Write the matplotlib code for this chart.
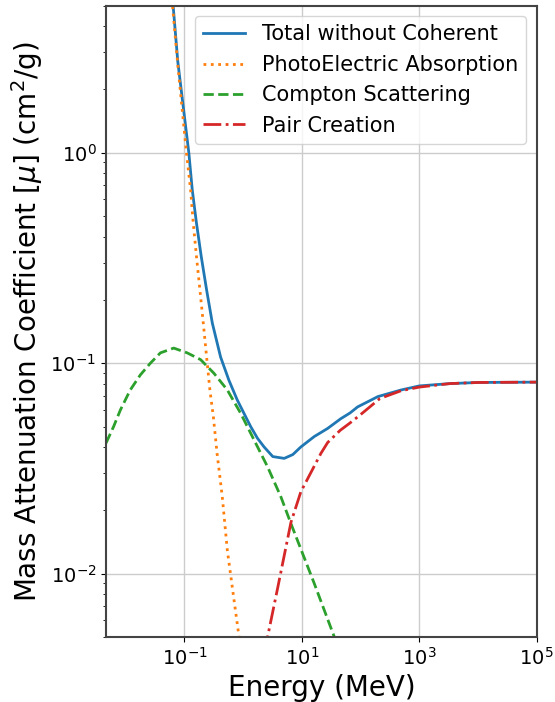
import matplotlib
matplotlib.use('Agg')
import matplotlib.pyplot as plt

# energies in MeV, mass attenuation coefficients in cm^2/g
total_E = [0.058, 0.064, 0.077, 0.1185, 0.1355, 0.160, 0.193, 0.238, 0.298,
           0.412, 0.571, 0.79, 1.03, 1.34, 1.75, 2.27, 3.19, 5.0, 7.0, 9.6,
           16.2, 27.5, 46, 66, 89, 197, 490, 1000, 3300, 1e4, 1e5]
total_mu = [6.5, 5.0, 2.7, 1.0, 0.667, 0.463, 0.321, 0.223, 0.155,
            0.107, 0.083, 0.067, 0.0578, 0.050, 0.044, 0.040, 0.036, 0.0353,
            0.0368, 0.040, 0.0448, 0.049, 0.0545, 0.058, 0.062, 0.0694, 0.0746,
            0.078, 0.080, 0.081, 0.0813]

photo_E = [0.058, 0.0625, 0.077, 0.108, 0.127, 0.141, 0.160, 0.183, 0.209,
           0.238, 0.271, 0.31, 0.36, 0.44, 0.537, 0.68, 0.85, 0.95]
photo_mu = [6.5, 5.0, 2.6, 1.0, 0.667, 0.463, 0.321, 0.223, 0.155,
            0.107, 0.0746, 0.0557, 0.037, 0.0232, 0.0129, 0.0079, 0.005, 0.004]

compton_E = [0.0046, 0.0062, 0.0081, 0.0119, 0.0177, 0.0262, 0.0389, 0.0656,
             0.111, 0.188, 0.317, 0.537, 0.906, 1.53, 2.6, 4.38, 6.5, 16.2,
             35.7, 45]
compton_mu = [0.0417, 0.050, 0.060, 0.0746, 0.088, 0.100, 0.112, 0.118,
              0.112, 0.104, 0.0896, 0.0746, 0.0578, 0.0432, 0.0322, 0.0232,
              0.0173, 0.0090, 0.005, 0.0042]

pair_E = [2.3, 2.6, 3.85, 6.5, 9.6, 21.1, 27.5, 45, 66, 100, 214, 490, 1000,
          3300, 1e4, 1e5]
pair_mu = [0.0042, 0.005, 0.0085, 0.0175, 0.0245, 0.0373, 0.042, 0.048, 0.052,
           0.057, 0.068, 0.074, 0.077, 0.080, 0.081, 0.0813]

x_ticks = [1e-1, 1e1, 1e3, 1e5]
y_ticks = [1e-2, 1e-1, 1e0]

fig = plt.figure(figsize=(5.55, 7.02), dpi=100)
ax = fig.add_axes([0.191, 0.0926, 0.776, 0.8993])

ax.loglog(total_E, total_mu, color='C0', lw=2, label='Total without Coherent')
ax.loglog(photo_E, photo_mu, color='C1', lw=2, ls=':', label='PhotoElectric Absorption')
ax.loglog(compton_E, compton_mu, color='C2', lw=2, ls='--', label='Compton Scattering')
ax.loglog(pair_E, pair_mu, color='C3', lw=2, ls='-.', label='Pair Creation')

ax.set_xticks(x_ticks)
ax.set_yticks(y_ticks)
ax.set_xlim(0.0046, 1e5)
ax.set_ylim(0.005, 5)
ax.grid(True, which='major', color='#cccccc', lw=1)
ax.set_axisbelow(True)
for s in ax.spines.values():
    s.set_color('#444444')
    s.set_linewidth(1.5)

ax.tick_params(labelsize=14)
ax.set_xlabel('Energy (MeV)', fontsize=20)
ax.set_ylabel(r'Mass Attenuation Coefficient [$\mu$] (cm$^2$/g)', fontsize=20)
ax.legend(loc='upper right', fontsize=15)

fig.savefig('out.png', dpi=100)
